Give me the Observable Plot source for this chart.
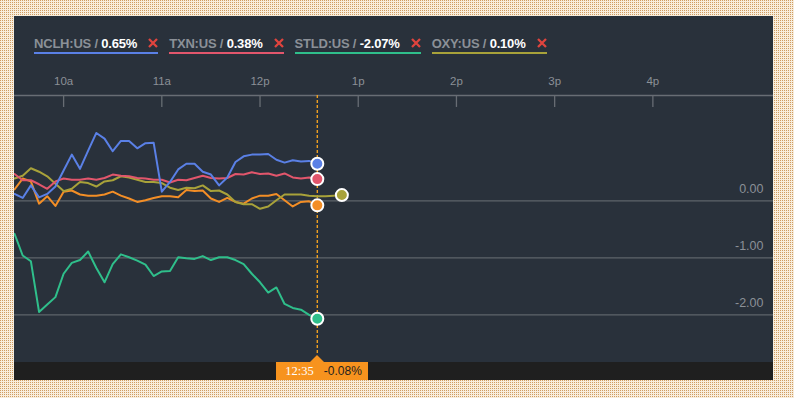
<!DOCTYPE html>
<html><head><meta charset="utf-8">
<script src="https://cdn.jsdelivr.net/npm/d3@7"></script>
<script src="https://cdn.jsdelivr.net/npm/@observablehq/plot@0.6"></script>
<style>
html,body{margin:0;padding:0;}
body{width:794px;height:398px;overflow:hidden;background-color:#cf9c62;background-image:linear-gradient(to right, transparent 1px, #f8eddc 1px),linear-gradient(to bottom, transparent 1px, #f8eddc 1px);background-size:2px 2px;font-family:"Liberation Sans",Arial,sans-serif;}
#panel{position:absolute;left:14px;top:16px;width:759px;height:364px;background:#29313b;overflow:hidden;}
#legend{position:absolute;left:20px;top:20px;display:flex;gap:11px;}
.item{display:flex;align-items:baseline;font-size:13px;font-weight:bold;line-height:15px;letter-spacing:-0.2px;padding-bottom:1px;border-bottom:2px solid;white-space:pre;}
.tk{color:#8b9097;}
.val{color:#ffffff;}
.x{margin-left:11px;width:10px;height:10px;}
#chart{position:absolute;left:0;top:44px;}
#strip{position:absolute;left:0;top:346px;width:759px;height:18px;background:#1f1f1f;}
#tip{position:absolute;top:346px;height:18px;width:92px;background:#f7931e;display:flex;align-items:center;font-size:12px;box-sizing:border-box;padding-left:9px;}
#tip .t{color:#fff;font-family:"Liberation Serif","Times New Roman",serif;font-size:12.5px;}
#tip .v{color:#1e1e1e;margin-left:10px;}
#tri{position:absolute;top:339px;width:0;height:0;border-left:7px solid transparent;border-right:7px solid transparent;border-bottom:7px solid #f7931e;}
</style></head>
<body>
<div id="panel">
  <div id="legend"></div>
  <div id="chart"></div>
  <div id="strip"></div>
  <div id="tri"></div>
  <div id="tip"></div>
</div>
<script>
const times = ["09:30","09:35","09:40","09:45","09:50","09:55","10:00","10:05","10:10","10:15","10:20","10:25","10:30","10:35","10:40","10:45","10:50","10:55","11:00","11:05","11:10","11:15","11:20","11:25","11:30","11:35","11:40","11:45","11:50","11:55","12:00","12:05","12:10","12:15","12:20","12:25","12:30","12:35","12:40","12:45","12:50"];

const legendNames = ["NCLH:US","TXN:US","STLD:US","OXY:US"];
const legendValues = ["0.65%","0.38%","-2.07%","0.10%"];

const nclh = [0.12,0.05,0.27,0.06,0.12,0.25,0.53,0.81,0.56,0.88,1.19,1.09,0.87,1.05,1.05,0.92,1.01,1.02,0.16,0.33,0.55,0.65,0.65,0.51,0.46,0.27,0.41,0.68,0.78,0.81,0.81,0.82,0.72,0.67,0.71,0.69,0.70,0.65];
const txn = [0.47,0.36,0.36,0.29,0.21,0.34,0.39,0.37,0.37,0.39,0.37,0.40,0.46,0.44,0.43,0.40,0.39,0.37,0.37,0.32,0.37,0.36,0.40,0.44,0.40,0.39,0.40,0.47,0.46,0.50,0.47,0.48,0.44,0.48,0.41,0.39,0.41,0.38];
const stld = [-0.58,-0.96,-1.06,-1.95,-1.82,-1.69,-1.28,-1.09,-1.04,-0.89,-1.18,-1.43,-1.11,-0.94,-0.99,-1.05,-1.12,-1.32,-1.24,-1.23,-0.99,-1.01,-1.02,-0.97,-1.04,-0.99,-0.99,-1.04,-1.11,-1.28,-1.43,-1.61,-1.52,-1.81,-1.88,-1.91,-2.00,-2.07];
const oxy = [0.39,0.44,0.57,0.51,0.43,0.30,0.17,0.21,0.33,0.31,0.25,0.34,0.36,0.43,0.41,0.37,0.33,0.33,0.31,0.23,0.19,0.23,0.22,0.27,0.17,0.18,0.11,-0.02,-0.06,-0.06,-0.14,-0.10,0.01,0.11,0.11,0.11,0.09,0.08,0.08,0.09,0.10];
const mainSeries = [0.20,0.39,0.34,-0.05,0.08,-0.09,0.16,0.18,0.11,0.09,0.09,0.11,0.16,0.09,0.04,-0.02,0.01,0.05,0.08,0.08,0.06,0.19,0.17,0.18,0.04,-0.02,0.05,-0.02,-0.05,0.04,0.09,0.09,0.12,0.01,-0.10,-0.02,-0.01,-0.08];

const seriesNames = ["NCLH:US","TXN:US","STLD:US","OXY:US","Main"];
const seriesColors = ["#5a80e6","#e2566c","#2fbf8b","#a8a23a","#f38e26"];

const xTickTimes = ["10:00","11:00","12:00","13:00","14:00","15:00","16:00"];
const xTickLabels = ["10a","11a","12p","1p","2p","3p","4p"];
const yTicks = [0,-1,-2];
const yTickLabels = ["0.00","-1.00","-2.00"];

const cursorTime = "12:35";
const cursorLabel = "-0.08%";

const toMin = s => { const [h,m] = s.split(":").map(Number); return h*60+m; };

const drawOrder = [["STLD:US",stld],["Main",mainSeries],["OXY:US",oxy],["TXN:US",txn],["NCLH:US",nclh]];
const rows = [];
const lastPts = [];
for (const [s, vals] of drawOrder) {
  vals.forEach((v,i) => rows.push({t: toMin(times[i]), v, s}));
  lastPts.push({t: toMin(times[vals.length-1]), v: vals[vals.length-1], s});
}

const xStart = toMin("09:30");
const xEnd = xStart + 463.7;
const yMin = -2.837, yMax = 1.847;
const grey = "#8b9097";

const chart = Plot.plot({
  width: 759, height: 320,
  marginTop: 35, marginBottom: 18, marginLeft: 0, marginRight: 0,
  x: {type: "linear", domain: [xStart, xEnd], axis: null},
  y: {domain: [yMin, yMax], axis: null},
  color: {domain: seriesNames, range: seriesColors},
  style: {background: "transparent", fontFamily: "'Liberation Sans', Arial, sans-serif", overflow: "visible"},
  marks: [
    Plot.ruleY([yMax], {stroke: "#686d74", strokeWidth: 1.3}),
    Plot.ruleX(xTickTimes.map(toMin), {y1: yMax, y2: yMax - 0.21, stroke: "#686d74", strokeWidth: 1.3}),
    Plot.text(xTickTimes.map(toMin), {x: d => d, y: yMax, text: (d,i) => xTickLabels[i], dy: -14, fill: grey, fontSize: 11.5}),
    Plot.ruleY(yTicks, {stroke: "#5e646b", strokeWidth: 1.3}),
    Plot.text(yTicks, {x: xEnd, y: d => d, text: (d,i) => yTickLabels[i], textAnchor: "end", dx: -10, dy: -12, fill: grey, fontSize: 12.5}),
    Plot.ruleX([toMin(cursorTime)], {stroke: "#f0a020", strokeWidth: 1.4, strokeDasharray: "3,2", insetBottom: 7}),
    Plot.line(rows, {x: "t", y: "v", z: "s", stroke: "s", strokeWidth: 2, curve: "linear"}),
    Plot.dot(lastPts, {x: "t", y: "v", fill: "s", stroke: "white", strokeWidth: 2, r: 6})
  ]
});
document.getElementById("chart").appendChild(chart);

// legend
const legend = document.getElementById("legend");
legendNames.forEach((n,i) => {
  const it = document.createElement("div");
  it.className = "item";
  it.style.borderBottomColor = seriesColors[i];
  it.innerHTML = `<span class="tk">${n} / </span><span class="val">${legendValues[i]}</span>` +
    `<svg class="x" viewBox="0 0 10 10"><path d="M1 1L9 9M9 1L1 9" stroke="#e0443e" stroke-width="2.3" fill="none"/></svg>`;
  legend.appendChild(it);
});

// cursor tooltip
const cx = chart.scale("x").apply(toMin(cursorTime));
const tip = document.getElementById("tip");
tip.style.left = (cx - 40.5) + "px";
tip.innerHTML = `<span class="t">${cursorTime}</span><span class="v">${cursorLabel}</span>`;
document.getElementById("tri").style.left = (cx - 7) + "px";
</script>
</body></html>
